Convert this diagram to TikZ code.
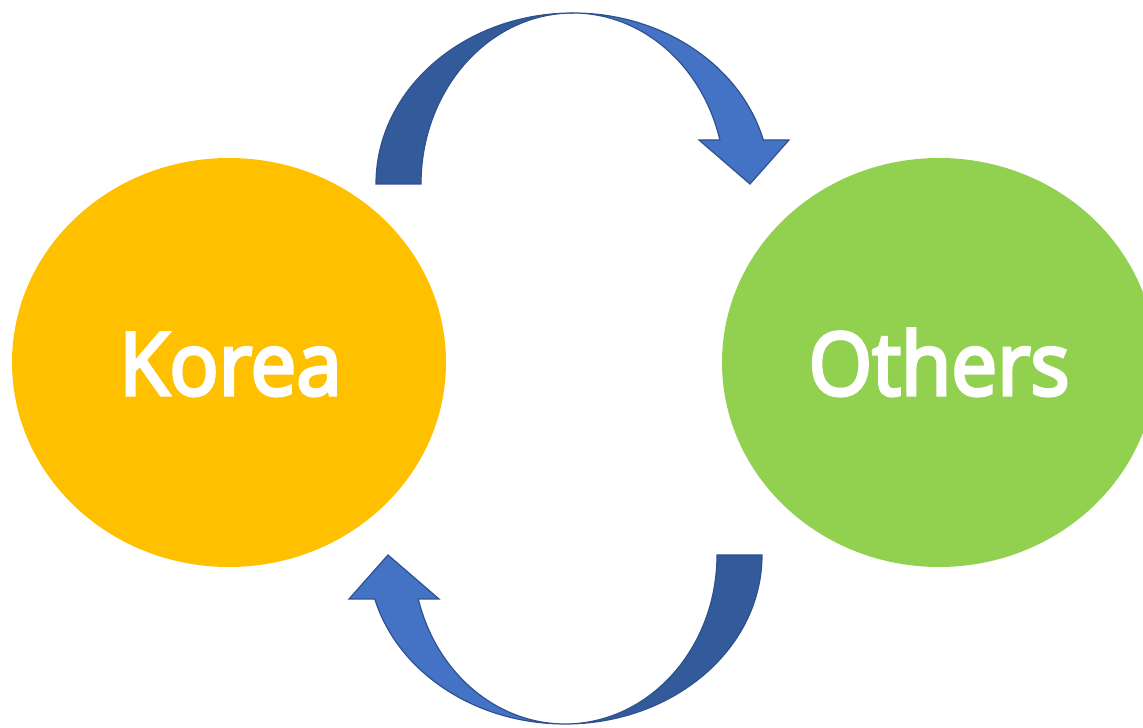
\documentclass[tikz,border=0pt]{standalone}
\usepackage{fontspec}
\usepackage{graphicx}
\setmainfont{Noto Sans}
\newfontfamily\lblfont{Open Sans}[AutoFakeBold=4]
\definecolor{kyellow}{HTML}{FFC000}
\definecolor{ogreen}{HTML}{92D050}
\definecolor{adark}{HTML}{335A9A}
\definecolor{alight}{HTML}{4472C4}
\definecolor{aedge}{HTML}{2F528F}
\usetikzlibrary{shapes.geometric,calc}
\tikzset{
  blob/.style={ellipse, minimum width=434pt, minimum height=409pt, inner sep=0pt, draw=none},
  lbl/.style={text=white, font=\lblfont\bfseries\fontsize{87}{100}\selectfont, anchor=base, inner sep=0pt},
  bandback/.style={fill=adark, draw=aedge, line width=1.2pt, line join=miter},
  bandfront/.style={fill=alight, draw=aedge, line width=1.2pt, line join=miter}
}
\begin{document}
\begin{tikzpicture}[x=1pt,y=1pt]
\useasboundingbox (0,0) rectangle (1143,728);
\clip (0,0) rectangle (1143,728);
% circles
\node[blob, fill=kyellow] (korea) at (229,365.5) {};
\node[blob, fill=ogreen] (others) at (939,365.5) {};
\node[lbl] (koreatxt) at (230.5,333) {\scalebox{0.94}[1]{Korea}};
\node[lbl] (otherstxt) at (939,333) {\scalebox{0.94}[1]{Others}};
% top curved arrow (Korea -> Others)
\coordinate (c1) at (573,544);
\draw[bandback] ($(c1)+(-197,0)$) arc[start angle=180, end angle=90, x radius=197, y radius=171]
  arc[start angle=90, end angle=180, x radius=152, y radius=171] -- cycle;
\draw[bandfront] (573,715) arc[start angle=90, end angle=14.91, x radius=197, y radius=171]
  -- (789,588) -- (750,544) -- (699,588) -- (719.9,588)
  arc[start angle=14.91, end angle=90, x radius=152, y radius=171] -- cycle;
% bottom curved arrow (Others -> Korea)
\coordinate (c2) at (565,173);
\draw[bandback] ($(c2)+(197,0)$) arc[start angle=0, end angle=-90, x radius=197, y radius=169]
  arc[start angle=-90, end angle=0, x radius=152, y radius=169] -- cycle;
\draw[bandfront] (565,4) arc[start angle=270, end angle=195.09, x radius=197, y radius=169]
  -- (349,129) -- (388,173) -- (439,129) -- (418.3,129)
  arc[start angle=195.09, end angle=270, x radius=152, y radius=169] -- cycle;
\end{tikzpicture}
\end{document}
